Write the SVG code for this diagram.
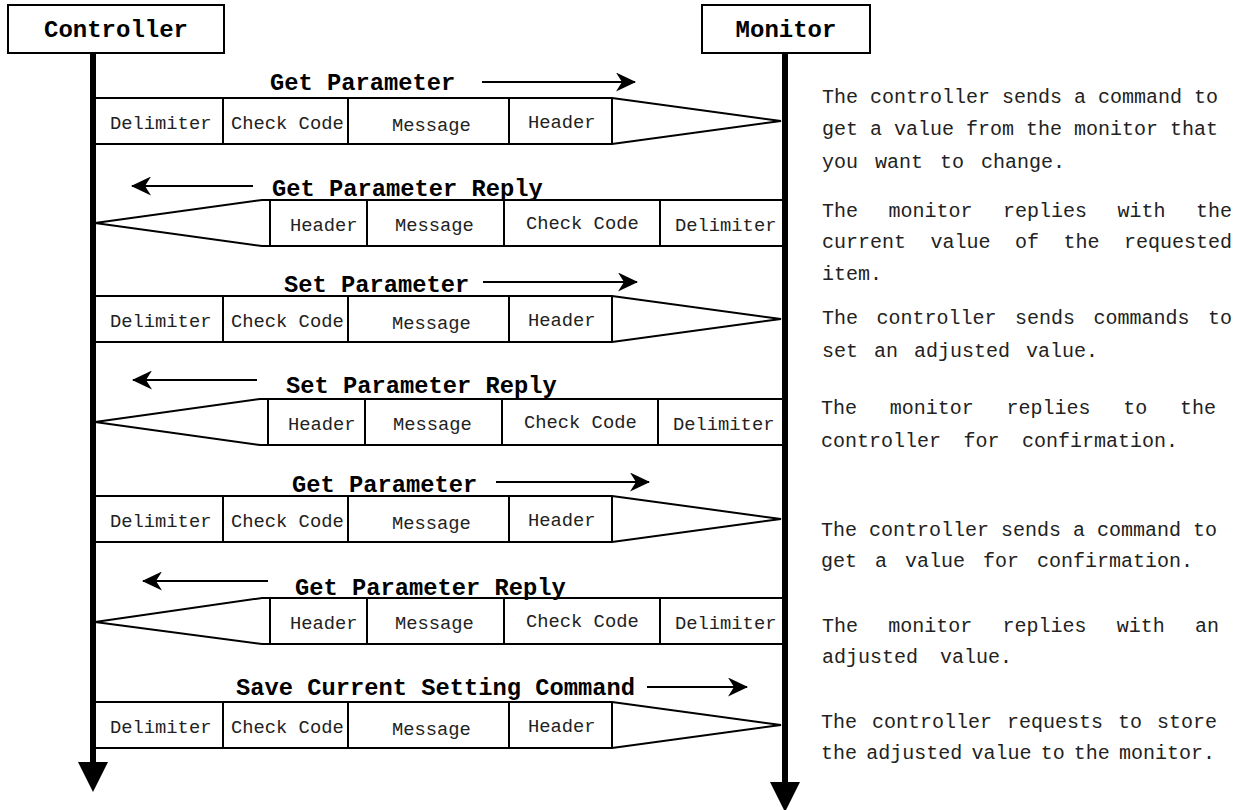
<svg xmlns="http://www.w3.org/2000/svg" width="1252" height="810" viewBox="0 0 1252 810">
<style>
.bx{fill:none;stroke:#000;stroke-width:2}
.hd{font-family:"Liberation Mono","Courier New",monospace;font-weight:bold;font-size:24px;fill:#000;text-anchor:middle}
.lb{font-family:"Liberation Mono","Courier New",monospace;font-weight:bold;font-size:23.75px;fill:#000}
.cl{font-family:"Liberation Mono","Courier New",monospace;font-size:18.8px;fill:#222}
.ds{font-family:"Liberation Mono","Courier New",monospace;font-size:20px;fill:#222}
.life{stroke:#000;stroke-width:6}
.arr{stroke:#000;stroke-width:2;fill:none;marker-end:url(#ah)}
</style>
<defs>
<marker id="ah" viewBox="0 0 20 19" refX="19" refY="9.5" markerWidth="20" markerHeight="19" markerUnits="userSpaceOnUse" orient="auto">
<path d="M0,0 L20,9.5 L0,19 L6,9.5 Z" fill="#000"/>
</marker>
</defs>
<rect width="1252" height="810" fill="#fff"/>

<g id="controller">
<rect class="bx" x="8" y="5" width="216" height="48" fill="#fff"/>
<text class="hd" x="116" y="37">Controller</text>
</g>
<g id="monitor">
<rect class="bx" x="702" y="5" width="168" height="48" fill="#fff"/>
<text class="hd" x="786" y="37">Monitor</text>
</g>

<g id="connectors">
<line class="life" x1="93" y1="53" x2="93" y2="764"/>
<polygon points="78,762 108,762 93,792" fill="#000"/>
<line class="life" x1="785" y1="53" x2="785" y2="784"/>
<polygon points="770,782 800,782 785,812" fill="#000"/>
<path class="arr" d="M482,82 H635"/>
<path class="arr" d="M253,186 H132"/>
<path class="arr" d="M483,282 H637"/>
<path class="arr" d="M257,380 H133"/>
<path class="arr" d="M496,482 H649"/>
<path class="arr" d="M268,581 H143"/>
<path class="arr" d="M647,687 H747"/>
</g>

<g id="msg1">
<text class="lb" x="270" y="90">Get Parameter</text>
<path class="bx" d="M96,98 H612 L781,121 L612,144 H96 M223,98 V144 M348,98 V144 M509,98 V144 M612,98 V144"/>
<text class="cl" x="110" y="129">Delimiter</text>
<text class="cl" x="231" y="129">Check Code</text>
<text class="cl" x="392" y="131">Message</text>
<text class="cl" x="528" y="128">Header</text>
</g>

<g id="msg2">
<text class="lb" x="272" y="196">Get Parameter Reply</text>
<path class="bx" d="M782,200 H262 L95,223 L262,246 H782 M270,200 V246 M367,200 V246 M504,200 V246 M660,200 V246"/>
<text class="cl" x="290" y="231">Header</text>
<text class="cl" x="395" y="231">Message</text>
<text class="cl" x="526" y="229">Check Code</text>
<text class="cl" x="675" y="231">Delimiter</text>
</g>

<g id="msg3">
<text class="lb" x="284" y="292">Set Parameter</text>
<path class="bx" d="M96,296 H612 L781,319 L612,342 H96 M223,296 V342 M348,296 V342 M509,296 V342 M612,296 V342"/>
<text class="cl" x="110" y="327">Delimiter</text>
<text class="cl" x="231" y="327">Check Code</text>
<text class="cl" x="392" y="329">Message</text>
<text class="cl" x="528" y="326">Header</text>
</g>

<g id="msg4">
<text class="lb" x="286" y="393">Set Parameter Reply</text>
<path class="bx" d="M782,399 H260 L95,422 L260,445 H782 M268,399 V445 M365,399 V445 M502,399 V445 M658,399 V445"/>
<text class="cl" x="288" y="430">Header</text>
<text class="cl" x="393" y="430">Message</text>
<text class="cl" x="524" y="428">Check Code</text>
<text class="cl" x="673" y="430">Delimiter</text>
</g>

<g id="msg5">
<text class="lb" x="292" y="492">Get Parameter</text>
<path class="bx" d="M96,496 H612 L781,519 L612,542 H96 M223,496 V542 M348,496 V542 M509,496 V542 M612,496 V542"/>
<text class="cl" x="110" y="527">Delimiter</text>
<text class="cl" x="231" y="527">Check Code</text>
<text class="cl" x="392" y="529">Message</text>
<text class="cl" x="528" y="526">Header</text>
</g>

<g id="msg6">
<text class="lb" x="295" y="595">Get Parameter Reply</text>
<path class="bx" d="M782,598 H262 L95,622 L262,644 H782 M270,598 V644 M367,598 V644 M504,598 V644 M660,598 V644"/>
<text class="cl" x="290" y="629">Header</text>
<text class="cl" x="395" y="629">Message</text>
<text class="cl" x="526" y="627">Check Code</text>
<text class="cl" x="675" y="629">Delimiter</text>
</g>

<g id="msg7">
<text class="lb" x="236" y="695">Save Current Setting Command</text>
<path class="bx" d="M96,702 H612 L781,725 L612,748 H96 M223,702 V748 M348,702 V748 M509,702 V748 M612,702 V748"/>
<text class="cl" x="110" y="733">Delimiter</text>
<text class="cl" x="231" y="733">Check Code</text>
<text class="cl" x="392" y="735">Message</text>
<text class="cl" x="528" y="732">Header</text>
</g>

<g id="descriptions">
<text class="ds" x="822" y="103">The controller sends a command to</text>
<text class="ds" x="822" y="135">get a value from the monitor that</text>
<text class="ds" x="822" y="168" word-spacing="5">you want to change.</text>
<text class="ds" x="822" y="217" word-spacing="18.5">The monitor replies with the</text>
<text class="ds" x="822" y="248" word-spacing="12.5">current value of the requested</text>
<text class="ds" x="822" y="280">item.</text>
<text class="ds" x="822" y="324" word-spacing="6.5">The controller sends commands to</text>
<text class="ds" x="822" y="357" word-spacing="4">set an adjusted value.</text>
<text class="ds" x="821" y="414" word-spacing="20.75">The monitor replies to the</text>
<text class="ds" x="821" y="447" word-spacing="10.5">controller for confirmation.</text>
<text class="ds" x="821" y="536">The controller sends a command to</text>
<text class="ds" x="821" y="567" word-spacing="6">get a value for confirmation.</text>
<text class="ds" x="822" y="632" word-spacing="18.25">The monitor replies with an</text>
<text class="ds" x="822" y="663" word-spacing="10">adjusted value.</text>
<text class="ds" x="821" y="728" word-spacing="3">The controller requests to store</text>
<text class="ds" x="821" y="759" word-spacing="-2.8">the adjusted value to the monitor.</text>
</g>
</svg>
